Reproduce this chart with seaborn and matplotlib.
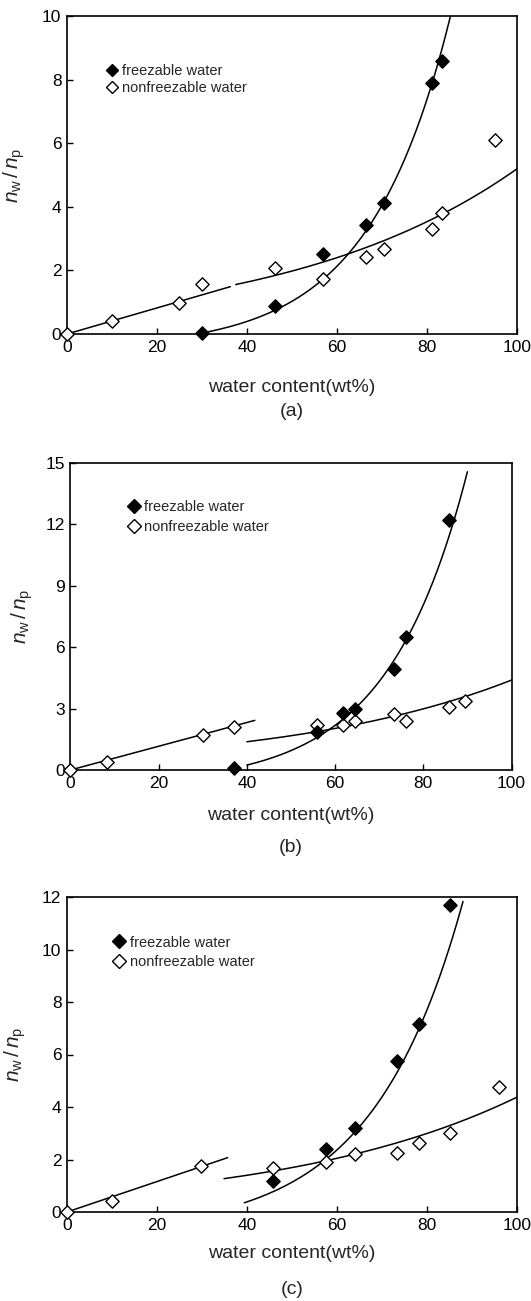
import numpy as np
import matplotlib
matplotlib.use("Agg")
import matplotlib.pyplot as plt
from matplotlib.lines import Line2D
import seaborn as sns

sns.set_style("ticks")
plt.rcParams['font.family'] = ['Liberation Sans', 'DejaVu Sans']
plt.rcParams['mathtext.fontset'] = 'custom'
plt.rcParams['mathtext.rm'] = 'Liberation Sans'
plt.rcParams['mathtext.it'] = 'Liberation Sans:italic'

# data (water content wt%, nw/np)
water_a_freeze = [30.1, 46.3, 56.8, 66.4, 70.4, 81.2, 83.4]
nw_a_freeze = [0.03, 0.88, 2.5, 3.43, 4.13, 7.88, 8.6]
water_a_nonfreeze = [0, 9.9, 24.8, 30.1, 46.3, 56.8, 66.4, 70.4, 81.2, 83.4, 95.2]
nw_a_nonfreeze = [0, 0.42, 0.99, 1.56, 2.07, 1.72, 2.43, 2.67, 3.3, 3.82, 6.1]

water_b_freeze = [37.0, 56.0, 61.8, 64.5, 73.3, 76.0, 85.9]
nw_b_freeze = [0.08, 1.87, 2.8, 2.99, 4.95, 6.5, 12.23]
water_b_nonfreeze = [0, 8.2, 30.1, 37.0, 56.0, 61.8, 64.5, 73.3, 76.0, 85.9, 89.4]
nw_b_nonfreeze = [0, 0.37, 1.69, 2.11, 2.21, 2.18, 2.37, 2.73, 2.39, 3.06, 3.38]

water_c_freeze = [45.7, 57.6, 64.0, 73.4, 78.2, 85.0]
nw_c_freeze = [1.2, 2.39, 3.19, 5.75, 7.18, 11.68]
water_c_nonfreeze = [0, 9.9, 29.7, 45.7, 57.6, 64.0, 73.4, 78.2, 85.0, 95.9]
nw_c_nonfreeze = [0, 0.43, 1.74, 1.69, 1.9, 2.22, 2.26, 2.63, 3.02, 4.75]

# fitted curves: y = c + a*exp(b*(x - x0)) over [x_start, x_end]
freeze_fit_a = [30, 85.2, -0.464, 0.494, 0.0553, 30]
freeze_fit_b = [40, 90, -0.713, 0.953, 0.0555, 40]
freeze_fit_c = [39.4, 88, -0.78, 1.132, 0.0496, 39.4]
nonfreeze_fit_a = [37.5, 100, 0, 1.54, 0.0193, 37]
nonfreeze_fit_b = [40, 100, 0, 1.38, 0.0193, 40]
nonfreeze_fit_c = [34.9, 100, 0, 1.27, 0.019, 34.9]
# low water content: straight line y = slope*x over [0, x_end]
low_line_a = [36.3, 0.041]
low_line_b = [41.8, 0.058]
low_line_c = [35.7, 0.058]

y_max = [10, 15, 12]
y_step = [2, 3, 2]
captions = ['(a)', '(b)', '(c)']


def exp_curve(p):
    x = np.linspace(p[0], p[1], 200)
    return x, p[2] + p[3] * np.exp(p[4] * (x - p[5]))


fig = plt.figure(figsize=(5.31, 13.01), dpi=100)

# axes boxes in pixels (left, top, right, bottom)
boxes = [(67, 16, 517, 334), (70.4, 463, 511.5, 770), (67, 897, 517, 1212)]
ylab_x = [-0.118, -0.11, -0.116]
xlab_y = [-0.167, -0.147, -0.133]
caption_y = [412, 847, 1289]
leg_anchor = [(0.083, 0.80), (0.128, 0.825), (0.1, 0.824)]
leg_msize = [8, 10, 10]
leg_spacing = [0.25, 0.4, 0.4]

panels = [
    (water_a_freeze, nw_a_freeze, water_a_nonfreeze, nw_a_nonfreeze,
     freeze_fit_a, nonfreeze_fit_a, low_line_a),
    (water_b_freeze, nw_b_freeze, water_b_nonfreeze, nw_b_nonfreeze,
     freeze_fit_b, nonfreeze_fit_b, low_line_b),
    (water_c_freeze, nw_c_freeze, water_c_nonfreeze, nw_c_nonfreeze,
     freeze_fit_c, nonfreeze_fit_c, low_line_c),
]

W, H = 531, 1301
for i, (xf, yf, xn, yn, ff, nf, ll) in enumerate(panels):
    l, t, r, b = boxes[i]
    ax = fig.add_axes([l / W, 1 - b / H, (r - l) / W, (b - t) / H])

    # fit lines
    cx, cy = exp_curve(ff)
    sns.lineplot(x=cx, y=cy, ax=ax, color='black', lw=1.1, sort=False)
    cx, cy = exp_curve(nf)
    sns.lineplot(x=cx, y=cy, ax=ax, color='black', lw=1.1, sort=False)
    lx = np.linspace(0, ll[0], 50)
    sns.lineplot(x=lx, y=ll[1] * lx, ax=ax, color='black', lw=1.1, sort=False)

    # points
    sns.scatterplot(x=xn, y=yn, ax=ax, marker='D', s=46, color='white',
                    edgecolor='black', linewidth=1.0, clip_on=False, zorder=5)
    sns.scatterplot(x=xf, y=yf, ax=ax, marker='D', s=46, color='black',
                    edgecolor='black', linewidth=1.0, clip_on=False, zorder=6)

    ax.set_xlim(0, 100)
    ax.set_ylim(0, y_max[i])
    ax.set_xticks(np.arange(0, 101, 20))
    ax.set_yticks(np.arange(0, y_max[i] + 0.1, y_step[i]))
    ax.tick_params(direction='in', length=4, width=1, labelsize=12.5,
                   pad=4, colors='black')
    for sp in ax.spines.values():
        sp.set_linewidth(1.2)
        sp.set_color('black')

    ax.set_xlabel('water content(wt%)', fontsize=14)
    ax.xaxis.label.set_va('center')
    ax.xaxis.set_label_coords(0.5, xlab_y[i])
    ax.set_ylabel(r'$n_\mathregular{w}\,/\,n_\mathregular{p}$', fontsize=15)
    ax.yaxis.label.set_va('center')
    ax.yaxis.set_label_coords(ylab_x[i], 0.5)

    handles = [
        Line2D([], [], ls='none', marker='D', markersize=leg_msize[i] * 0.75,
               mfc='black', mec='black'),
        Line2D([], [], ls='none', marker='D', markersize=leg_msize[i] * 0.75,
               mfc='white', mec='black'),
    ]
    ax.legend(handles, ['freezable water', 'nonfreezable water'],
              loc='center left', bbox_to_anchor=leg_anchor[i], frameon=False,
              fontsize=10.5, borderpad=0, borderaxespad=0, handlelength=1.0,
              handletextpad=0.2, labelspacing=leg_spacing[i])

    fig.text(((l + r) / 2) / W, 1 - caption_y[i] / H, captions[i],
             fontsize=14, ha='center', va='center')

fig.savefig('out.png', dpi=100)
